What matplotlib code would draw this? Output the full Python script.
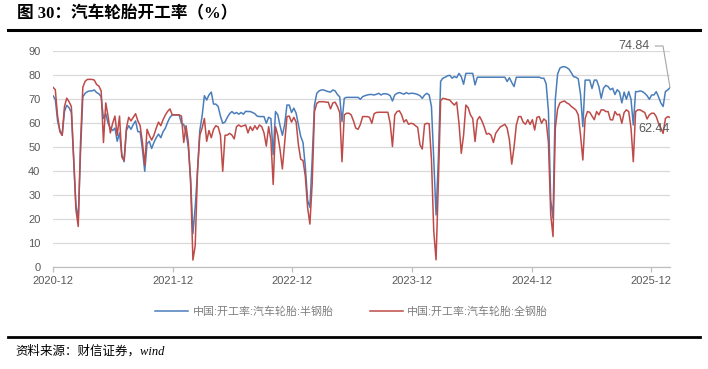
import numpy as np
import pandas as pd
import matplotlib
matplotlib.use("Agg")
import matplotlib.pyplot as plt
from matplotlib.lines import Line2D

plt.rcParams['font.family'] = ['Liberation Sans', 'Noto Sans CJK SC', 'DejaVu Sans']

#---------------------------- data (weekly) ----------------------------
start_date = '2020-12-03'
n_weeks = 270

semi_steel = [  # 中国:开工率:汽车轮胎:半钢胎
    71.5, 70, 61, 57, 55, 65, 67.5, 66.5, 64.5, 45,
    26, 20, 48, 71, 72.5, 73.2, 73.5, 73.5, 73.9, 72.8,
    72.3, 71, 62, 64, 60, 58, 57, 58, 52.5, 56,
    47, 44, 57, 59, 57.5, 59.5, 61, 56.5, 56.5, 49,
    40, 51.5, 52.5, 49.5, 52, 54, 55.5, 54, 56.5, 58,
    60.5, 62.5, 63.5, 63.5, 63.5, 63.5, 60, 59.5, 56, 50,
    37, 14, 25, 40, 57, 63, 71.5, 69.7, 71.8, 73,
    68, 68, 67, 63, 60, 60.5, 62.5, 64, 64.9, 64,
    64.5, 63.8, 64.5, 63.8, 65, 64.9, 64.9, 64.5, 64, 63,
    62.8, 62.8, 62.8, 60, 62.5, 62, 47, 64.9, 63.5, 59,
    55, 59.5, 67.6, 67.6, 64.5, 66.3, 64.2, 59.3, 54.5, 52,
    42, 28, 25, 45, 67.6, 72.5, 73.5, 73.9, 73.9, 73.5,
    73.2, 73, 73.9, 73.5, 72, 71, 60.7, 70.4, 70.8, 70.8,
    70.8, 70.8, 70.8, 70.8, 70, 71.1, 71.5, 71.8, 72, 72,
    71.8, 72.1, 72.5, 71.8, 72.3, 72.3, 72.1, 71.5, 69.3, 71.8,
    72.5, 72.8, 72.5, 72.1, 72.8, 72.3, 72.5, 72.5, 72.3, 72,
    71.5, 70.4, 71.8, 72.5, 71.8, 67, 45, 21.8, 45, 77.5,
    78.8, 79.2, 79.8, 80, 78.8, 79.5, 79, 80.8, 79.4, 76.3,
    80.8, 80.8, 80.8, 80.8, 76, 79.2, 79.2, 79.2, 79.2, 79.2,
    79.2, 79.2, 79.2, 79.2, 79.2, 79.2, 79.2, 79.2, 77.4, 79,
    77, 75.3, 79.2, 79.2, 79.2, 79.2, 79.2, 79.2, 79.2, 79.2,
    79.2, 79.2, 79.2, 78.8, 78.8, 76.5, 65, 28, 20.4, 70,
    80.5, 83, 83.5, 83.6, 83.2, 82.5, 81, 79.4, 79.2, 78.5,
    72, 58.6, 78, 78, 78, 74.5, 78, 78, 75.3, 70.4,
    74.6, 75.8, 75.3, 74, 74.6, 72, 74, 73, 68.5, 73,
    70, 73.2, 70, 59.3, 73.2, 73.2, 73.5, 73.2, 72.5, 71.5,
    70, 71.8, 71.8, 73.2, 71, 68.5, 67, 73.2, 73.9, 74.84,
]

all_steel = [  # 中国:开工率:汽车轮胎:全钢胎
    75, 74, 63, 56.5, 55, 67, 70.5, 69, 67, 45,
    24, 17, 52, 75, 77.5, 78.3, 78.3, 78.3, 78, 76.2,
    75.5, 73.5, 52, 68.5, 63, 56, 60, 63, 55, 63,
    46, 44.5, 58, 62.5, 61, 62.5, 64, 61, 59, 52,
    42.5, 57.5, 55, 53, 55, 58, 60.5, 59, 61.5, 63.5,
    65, 66, 63.5, 63.5, 63.5, 63.5, 63, 52, 59, 52,
    35, 3, 9, 40, 55, 58, 62, 52.5, 57, 54,
    57.5, 59, 58.5, 55, 40, 55, 55.1, 55.8, 55.1, 53.5,
    58.6, 59.3, 58.6, 59, 59.3, 56, 58.6, 57, 59, 57.5,
    59.3, 58.6, 56, 50.5, 58.6, 53, 34.5, 58.6, 55, 49,
    41, 52, 62.8, 63, 60.5, 62.5, 60.5, 51, 45, 44.5,
    38, 25, 18, 35, 64.9, 68.3, 69, 69, 69, 68.8,
    68.8, 66, 68.5, 68.8, 67, 64.5, 44, 63.5, 64.2, 64.2,
    63.5, 61, 58, 57.5, 59.5, 62.8, 62.8, 62.8, 62.5, 60,
    64, 64.5, 64.6, 64.6, 64.6, 64.6, 64.6, 60, 50.3, 63.5,
    64.9, 65.2, 63.5, 60.5, 61.5, 59.6, 60, 59.8, 59, 58.3,
    51, 49.3, 59.6, 60, 59.8, 45, 15, 3.1, 35, 69.5,
    70.4, 70.2, 69.9, 69.7, 68.5, 67.6, 68.8, 60, 47.5, 55,
    67.6, 66.5, 63.5, 62, 52.4, 61.4, 62.8, 61, 58.5, 55.5,
    55.8, 55, 52, 55.8, 57.2, 58.5, 59, 59.6, 58, 53,
    43, 50, 59.3, 62.8, 62.8, 60.4, 59.6, 61.5, 59.5, 61.5,
    57.2, 62.5, 62.8, 60, 61.8, 61, 52, 22, 12.8, 58,
    66, 68.5, 69, 69.3, 68.5, 68, 67, 66.3, 65.5, 63.5,
    55, 44.7, 62, 64.9, 64.6, 63, 61.5, 64.9, 63.5, 65.6,
    65.6, 64.9, 64.9, 61.5, 61.4, 64.9, 63.5, 63.8, 60, 64.5,
    65.6, 64.9, 58, 44, 64.9, 65.6, 65.6, 65, 64.5, 61.8,
    63.5, 64.2, 64.2, 62.8, 60, 58, 55.8, 62, 62.8, 62.44,
]

labels = ['中国:开工率:汽车轮胎:半钢胎', '中国:开工率:汽车轮胎:全钢胎']
tick_years = [2020, 2021, 2022, 2023, 2024, 2025]

dates = pd.date_range(start_date, periods=n_weeks, freq='7D')
blue = '#4a7ebb'
red = '#be4b48'
grey_txt = '#595959'

#---------------------------- figure ----------------------------
W, H = 708, 369
fig = plt.figure(figsize=(W / 100, H / 100), dpi=100)

ax = fig.add_axes([53 / W, 1 - 267.3 / H, (670 - 53) / W, (267.3 - 51.3) / H])
ax.plot(dates, semi_steel, color=blue, lw=1.1)
ax.plot(dates, all_steel, color=red, lw=1.1)

ax.set_ylim(0, 90)
ax.set_yticks(np.arange(0, 91, 10))
ax.set_xlim(dates[0], dates[-1])
ticks = [pd.Timestamp(y, 12, 3) for y in tick_years]
ax.set_xticks(ticks)
ax.set_xticklabels([t.strftime('%Y-%m') for t in ticks])

ax.grid(axis='y', color='#d9d9d9', lw=0.9)
ax.set_axisbelow(True)
for s in ['top', 'right', 'left']:
    ax.spines[s].set_visible(False)
ax.spines['bottom'].set_color('#bfbfbf')
ax.spines['bottom'].set_linewidth(0.9)
ax.tick_params(axis='y', length=0, pad=9, labelsize=8, labelcolor=grey_txt)
ax.tick_params(axis='x', length=3.5, width=0.9, color='#bfbfbf', pad=3,
               labelsize=8, labelcolor=grey_txt)

# last value labels
ax.annotate(f'{semi_steel[-1]:.2f}', xy=(dates[-1], semi_steel[-1]),
            xytext=(-26, 30), textcoords='offset points', ha='center', va='center',
            fontsize=9, color=grey_txt, annotation_clip=False,
            arrowprops=dict(arrowstyle='-', color='#a6a6a6', lw=0.8, relpos=(1, 0.5),
                            connectionstyle='angle,angleA=0,angleB=99.5,rad=0',
                            shrinkA=2, shrinkB=0))
ax.annotate(f'{all_steel[-1]:.2f}', xy=(dates[-1], all_steel[-1]),
            xytext=(-11.4, -8.6), textcoords='offset points', ha='center', va='center',
            fontsize=9, color=grey_txt, annotation_clip=False)

# legend
handles = [Line2D([], [], color=blue, lw=1.1), Line2D([], [], color=red, lw=1.1)]
fig.legend(handles, labels, loc='center', bbox_to_anchor=(0.497, 1 - 311.5 / H), ncol=2,
           frameon=False, fontsize=7.9, handlelength=3.0, handletextpad=0.4,
           columnspacing=3.3, labelcolor='#7f7f7f')

# title, rules and source
fig.text(17 / W, 1 - 14.5 / H, '图 30：汽车轮胎开工率（%）', fontsize=12, fontweight='bold',
         family=['Liberation Serif', 'Noto Sans CJK SC'], va='center', ha='left')
fig.add_artist(Line2D([8 / W, 700 / W], [1 - 29.5 / H, 1 - 29.5 / H], color='black', lw=2.2))
fig.add_artist(Line2D([8 / W, 700 / W], [1 - 336.5 / H, 1 - 336.5 / H], color='black', lw=2.0))
fig.text(15 / W, 1 - 351 / H, '资料来源：财信证券，wind', fontsize=9, style='italic',
         family=['Liberation Serif', 'Noto Sans CJK SC'], va='center', ha='left')

fig.savefig('out.png', dpi=100)
